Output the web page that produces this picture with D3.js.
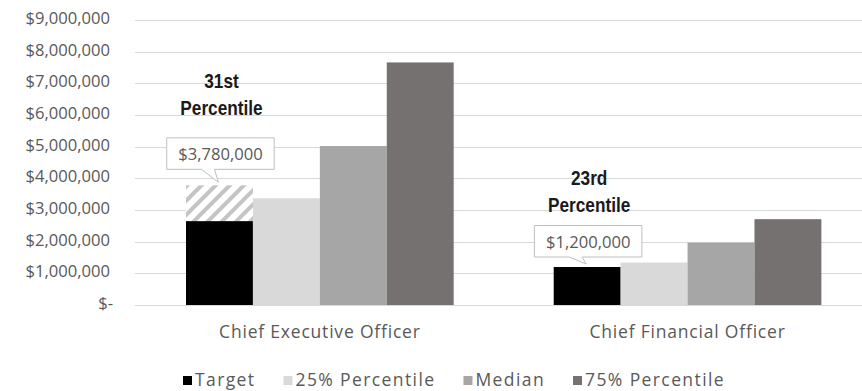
<!DOCTYPE html>
<html>
<head>
<meta charset="utf-8">
<script src="https://cdn.jsdelivr.net/npm/d3@7"></script>
<style>
  html, body { margin: 0; padding: 0; background: #ffffff; }
  svg { display: block; }
</style>
</head>
<body>
<svg id="chart" width="862" height="391"></svg>
<script>
// ---- data ----
const categories = ["Chief Executive Officer", "Chief Financial Officer"];
const seriesNames = ["Target", "25% Percentile", "Median", "75% Percentile"];
const targetValues = [2650000, 1200000];
const p25Values = [3370000, 1340000];
const medianValues = [5020000, 1970000];
const p75Values = [7660000, 2710000];
// target pay shown in the callouts (hatched extension above the target bar)
const calloutValues = [3780000, 1200000];
const rankLabels = ["31st", "23rd"];
const yTicks = [0, 1000000, 2000000, 3000000, 4000000, 5000000, 6000000, 7000000, 8000000, 9000000];

// ---- layout / style ----
const seriesColors = ["#000000", "#d9d9d9", "#a6a6a6", "#767171"];
const annotationLayout = [{ lift: 16, gap: 23 }, { lift: 10, gap: 14 }];
const textColor = "#595959";
const gridColor = "#d9d9d9";
const margin = { left: 136, right: -9.4, top: 20, bottom: 86 };
const W = 862, H = 391;

const svg = d3.select("#chart");

const defs = svg.append("defs");
const pat = defs.append("pattern")
  .attr("id", "hatch")
  .attr("patternUnits", "userSpaceOnUse")
  .attr("width", 10).attr("height", 10)
  .attr("patternTransform", "rotate(45)");
pat.append("rect").attr("width", 10).attr("height", 10).attr("fill", "#ffffff");
pat.append("rect").attr("x", 0).attr("y", 0).attr("width", 4).attr("height", 10).attr("fill", "#c4c4c4");

const x0 = d3.scaleBand()
  .domain(categories)
  .range([margin.left, W - margin.right])
  .paddingInner(0.272)
  .paddingOuter(0.136);

const x1 = d3.scaleBand()
  .domain(seriesNames)
  .range([0, x0.bandwidth()])
  .padding(0);

const y = d3.scaleLinear()
  .domain([0, 9000000])
  .range([H - margin.bottom, margin.top]);

const fmt = d3.format("$,.0f");
const tickFmt = v => v === 0 ? "$-" : fmt(v);

// gridlines
svg.append("g")
  .selectAll("line")
  .data(yTicks)
  .join("line")
  .attr("x1", 135).attr("x2", W)
  .attr("y1", d => Math.round(y(d)) + 0.5)
  .attr("y2", d => Math.round(y(d)) + 0.5)
  .attr("stroke", gridColor)
  .attr("stroke-width", 1);

// y axis labels
const yAxis = d3.axisLeft(y).tickValues(yTicks).tickFormat(tickFmt).tickSize(0).tickPadding(0);
const yg = svg.append("g")
  .attr("transform", "translate(110,0)")
  .call(yAxis);
yg.select(".domain").remove();
yg.selectAll("text")
  .attr("fill", textColor)
  .attr("font-family", "'Open Sans', sans-serif")
  .attr("font-size", "16.6px")
  .attr("dy", "0.22em")
  .attr("dx", d => d === 0 ? 3 : 0);

// bars
const seriesValues = [targetValues, p25Values, medianValues, p75Values];
const rows = categories.map((c, i) => ({
  cat: c,
  vals: seriesNames.map((s, j) => ({ s, v: seriesValues[j][i], color: seriesColors[j] }))
}));

const groups = svg.append("g")
  .selectAll("g")
  .data(rows)
  .join("g")
  .attr("transform", d => `translate(${x0(d.cat)},0)`);

groups.selectAll("rect")
  .data(d => d.vals)
  .join("rect")
  .attr("x", d => x1(d.s))
  .attr("width", x1.bandwidth())
  .attr("y", d => y(d.v))
  .attr("height", d => y(0) - y(d.v))
  .attr("fill", d => d.color);

// hatched extension from target up to the callout value
groups.append("rect")
  .attr("x", x1("Target"))
  .attr("width", x1.bandwidth())
  .attr("y", (d, i) => y(calloutValues[i]))
  .attr("height", (d, i) => Math.max(0, y(targetValues[i]) - y(calloutValues[i])))
  .attr("fill", "url(#hatch)");

// callouts
categories.forEach((c, i) => {
  const cx = x0(c) + x1("Target") + x1.bandwidth() / 2;
  const barTop = y(calloutValues[i]);
  const lay = annotationLayout[i];
  const bh = 31.5;
  const boxBottom = barTop - lay.lift;
  const boxTop = boxBottom - bh;

  const g = svg.append("g");
  const t = g.append("text")
    .attr("x", cx + 1)
    .attr("y", boxTop + 22)
    .attr("text-anchor", "middle")
    .attr("fill", textColor)
    .attr("font-family", "'Open Sans', sans-serif")
    .attr("font-size", "16.6px")
    .text(fmt(calloutValues[i]));
  const tw = t.node().getComputedTextLength();
  const bw = tw + 23;
  const bx0 = cx + 1 - bw / 2, bx1 = cx + 1 + bw / 2;
  g.insert("path", "text")
    .attr("d", `M${bx0},${boxTop} H${bx1} V${boxBottom} H${cx - 5} L${cx - 1},${barTop - 3} L${cx - 18},${boxBottom} H${bx0} Z`)
    .attr("fill", "#ffffff")
    .attr("stroke", "#bfbfbf")
    .attr("stroke-width", 1);

  // percentile rank label
  const lg = svg.append("g")
    .attr("transform", `translate(${cx + 2},${boxTop - lay.gap}) scale(0.82,1)`);
  lg.append("text")
    .attr("y", -27)
    .attr("text-anchor", "middle")
    .attr("font-family", "'Liberation Sans', Arial, sans-serif")
    .attr("font-weight", "bold")
    .attr("font-size", "21px")
    .attr("fill", "#1a1a1a")
    .text(rankLabels[i]);
  lg.append("text")
    .attr("y", 0)
    .attr("text-anchor", "middle")
    .attr("font-family", "'Liberation Sans', Arial, sans-serif")
    .attr("font-weight", "bold")
    .attr("font-size", "21px")
    .attr("fill", "#1a1a1a")
    .text("Percentile");
});

// category labels
const xAxis = d3.axisBottom(x0).tickSize(0).tickPadding(0);
const xg = svg.append("g")
  .attr("transform", `translate(0,${y(0)})`)
  .call(xAxis);
xg.select(".domain").remove();
xg.selectAll("text")
  .attr("fill", textColor)
  .attr("font-family", "'Open Sans', sans-serif")
  .attr("font-size", "17.5px")
  .attr("letter-spacing", "0.8px")
  .attr("dy", 0)
  .attr("y", 33);

// legend
const legend = svg.append("g");
let lx = 183;
seriesNames.forEach((s, i) => {
  legend.append("rect")
    .attr("x", lx).attr("y", 376)
    .attr("width", 9).attr("height", 9)
    .attr("fill", seriesColors[i]);
  const t = legend.append("text")
    .attr("x", lx + 12)
    .attr("y", 386)
    .attr("fill", textColor)
    .attr("font-family", "'Open Sans', sans-serif")
    .attr("font-size", "17.5px")
    .attr("letter-spacing", "1.4px")
    .text(s);
  lx += 12 + t.node().getComputedTextLength() + 28;
});
</script>
</body>
</html>
